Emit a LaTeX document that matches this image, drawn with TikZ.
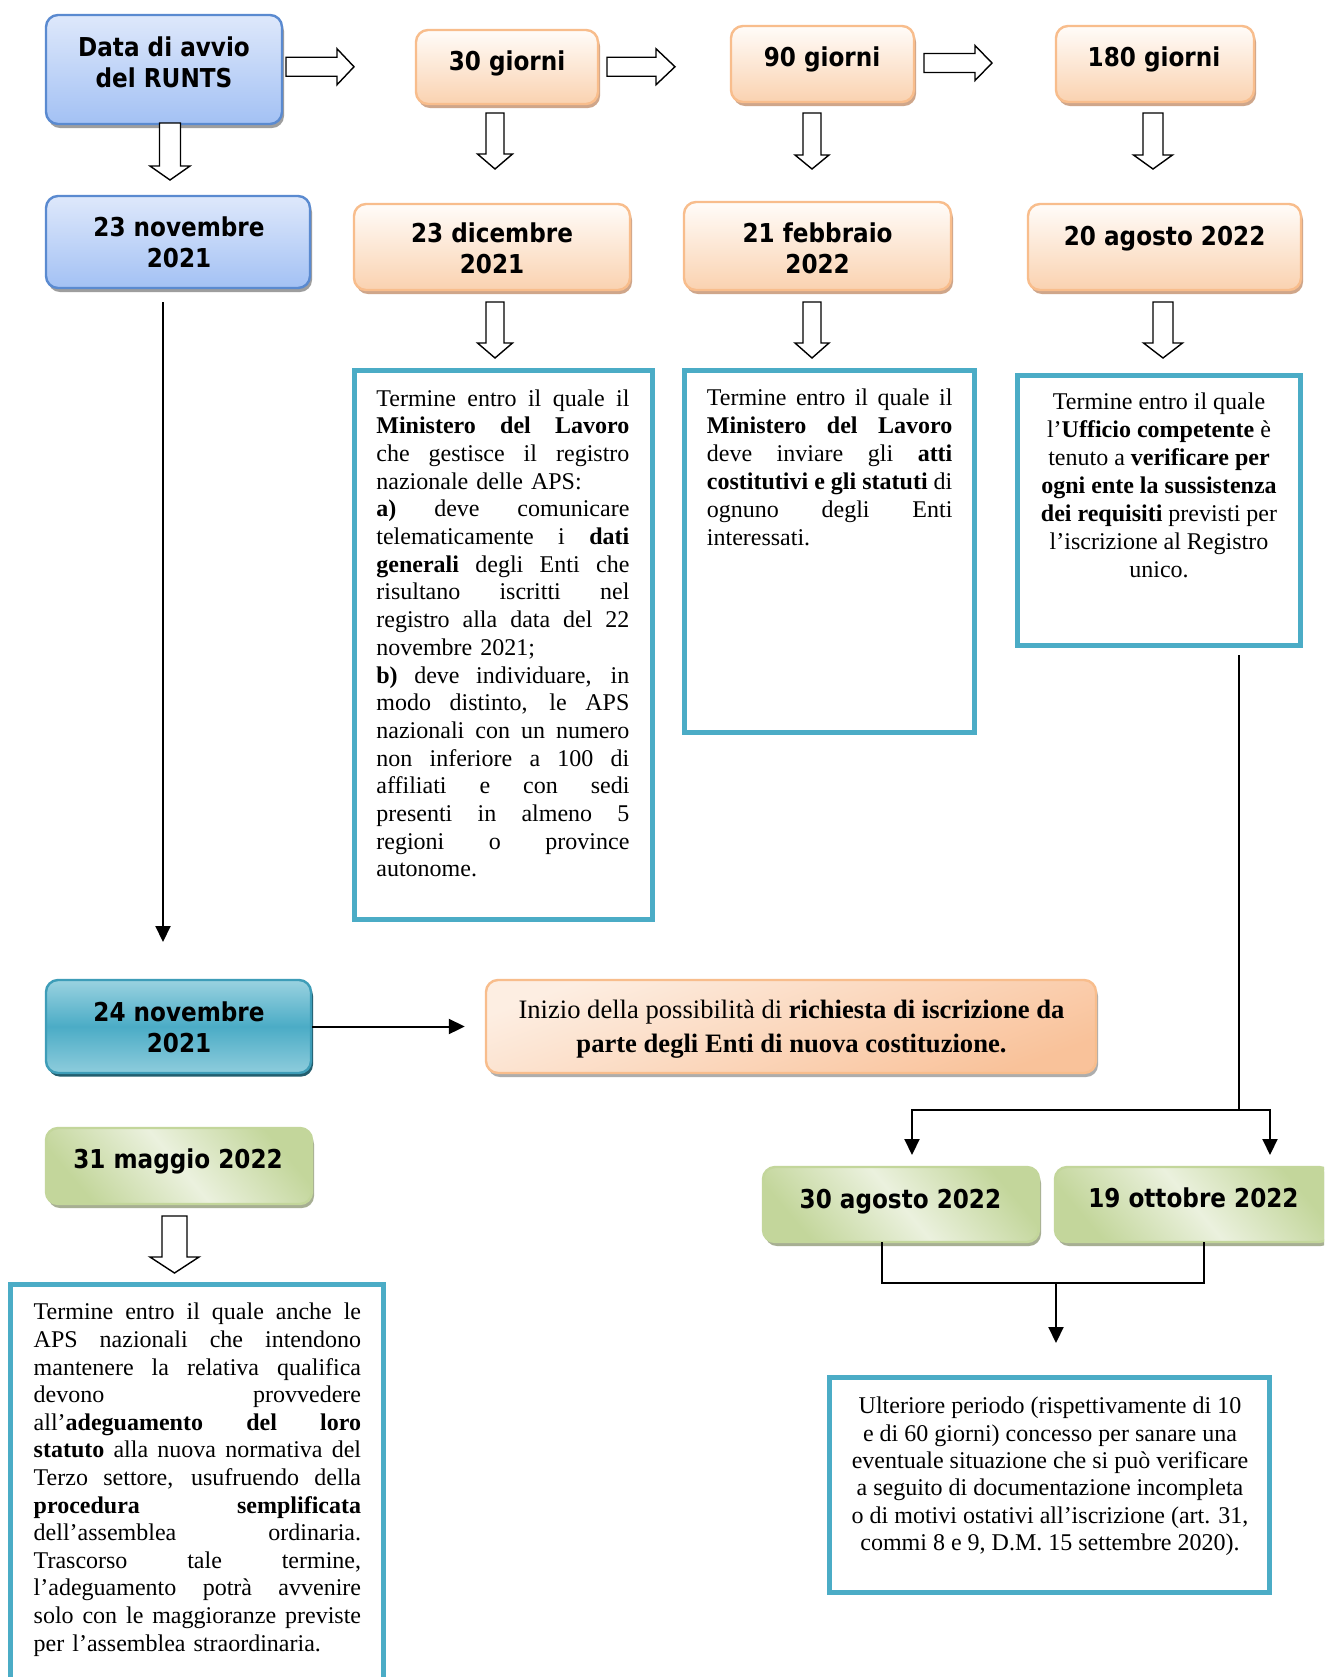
\documentclass[tikz,border=0pt]{standalone}
\usepackage{fontspec}
\setmainfont{Liberation Serif}
\newfontfamily\hdfont[FakeStretch=0.89]{DejaVu Sans}
\usetikzlibrary{fit,shadows,arrows.meta,calc}
\definecolor{bluT}{HTML}{DEE8FB}
\definecolor{bluD}{HTML}{A3C1F4}
\definecolor{bluB}{HTML}{5A8AD0}
\definecolor{orT}{HTML}{FFFCF9}
\definecolor{orD}{HTML}{FAD2B0}
\definecolor{orB}{HTML}{F8BD8C}
\definecolor{orS}{HTML}{CFA68A}
\definecolor{tlL}{HTML}{9AD2E0}
\definecolor{tlM}{HTML}{4BACC6}
\definecolor{tlB}{HTML}{3E9DB8}
\definecolor{tlS}{HTML}{235E6E}
\definecolor{grD}{HTML}{C3D69B}
\definecolor{grL}{HTML}{EBF1DE}
\definecolor{grS}{HTML}{A7AF93}
\definecolor{frm}{HTML}{4BACC6}
\definecolor{inT}{HTML}{FDEEE2}
\definecolor{inD}{HTML}{F9C29A}
\newcommand\jl[1]{\makebox[\linewidth][s]{\spaceskip=0pt\xspaceskip=0pt #1}\\}
\newcommand\rarr[6]{\draw[blk] (#1,#4-#5) -- (#2,#4-#5) -- (#2,#4-#6) -- (#3,#4) -- (#2,#4+#6) -- (#2,#4+#5) -- (#1,#4+#5) -- cycle;}
\newcommand\darr[6]{\draw[blk] (#1-#5,#2) -- (#1-#5,#3) -- (#1-#6,#3) -- (#1,#4) -- (#1+#6,#3) -- (#1+#5,#3) -- (#1+#5,#2) -- cycle;}
\tikzset{
  rbox/.style={rounded corners=6pt, line width=1.2pt, inner sep=0pt},
  bluebox/.style={rbox, draw=bluB, top color=bluT, bottom color=bluD,
    drop shadow={shadow xshift=1pt, shadow yshift=-2pt, fill=black!38, opacity=1}},
  orbox/.style={rbox, draw=orB, top color=orT, bottom color=orD,
    drop shadow={shadow xshift=1pt, shadow yshift=-2pt, fill=orS, opacity=1}},
  tealbox/.style={rbox, draw=tlB, top color=tlL, bottom color=tlL!85!tlM, middle color=tlM,
    drop shadow={shadow xshift=1pt, shadow yshift=-1.8pt, fill=tlS, opacity=1}},
  inbox/.style={rbox, draw=orB, top color=inT, bottom color=inD, shading angle=20,
    drop shadow={shadow xshift=1pt, shadow yshift=-2pt, fill=black!32, opacity=1}},
  grbox/.style={rbox, draw=grD, top color=grD, bottom color=grD, middle color=grL, shading angle=-50,
    drop shadow={shadow xshift=1pt, shadow yshift=-2pt, fill=grS, opacity=1}},
  frame/.style={draw=frm, line width=2.5pt, inner sep=0pt},
  hd/.style={font=\hdfont\bfseries\fontsize{13pt}{15.5pt}\selectfont, align=center, inner sep=0pt},
  tx/.style={font=\fontsize{12pt}{13.85pt}\selectfont, inner sep=0pt},
  blk/.style={draw=black, fill=white, line width=0.7pt},
  line/.style={line width=1pt},
  conn/.style={line width=1pt, -{Triangle[length=8pt,width=7.5pt]}},
}
\begin{document}
\begin{tikzpicture}[x=0.5pt,y=-0.5pt]
\fill[white] (0,0) rectangle (1324,1677);
\useasboundingbox (0,0) rectangle (1324,1677);
\clip (0,0) rectangle (1324,1677);

% heading boxes
\node[bluebox, fit={(46,15) (282,124)}] (data) {};
\node[bluebox, fit={(46,196) (310,288)}] (nov23) {};
\node[orbox, fit={(416,30) (598,104)}] (g30) {};
\node[orbox, fit={(731,26) (914,102)}] (g90) {};
\node[orbox, fit={(1056,26) (1254,102)}] (g180) {};
\node[orbox, fit={(354,204) (630,290)}] (dic23) {};
\node[orbox, fit={(684,202) (951,290)}] (feb21) {};
\node[orbox, fit={(1028,204) (1301,290)}] (ago20) {};
\node[tealbox, fit={(46,980) (311,1073)}] (nov24) {};
\node[inbox, fit={(486,980) (1096,1073)}] (inizio) {};
\node[grbox, fit={(46,1128) (312,1204)}] (mag31) {};
\node[grbox, fit={(763,1167) (1039,1242)}] (ago30) {};
\node[grbox, fit={(1055,1167) (1331,1242)}] (ott19) {};

% heading texts
\node[hd] (data-t) at (164,62.6) {Data di avvio\\del RUNTS};
\node[hd] (nov23-t) at (179,242.6) {23 novembre\\2021};
\node[hd] (g30-t) at (507,63.2) {30 giorni};
\node[hd] (g90-t) at (822,59.9) {90 giorni};
\node[hd] (g180-t) at (1154,59.9) {180 giorni};
\node[hd] (dic23-t) at (492,248.6) {23 dicembre\\2021};
\node[hd] (feb21-t) at (817.6,248.6) {21 febbraio\\2022};
\node[hd] (ago20-t) at (1164.6,238.5) {20 agosto 2022};
\node[hd] (nov24-t) at (179,1027.6) {24 novembre\\2021};
\node[hd] (mag31-t) at (178,1161) {31 maggio 2022};
\node[hd] (ago30-t) at (900.4,1201.5) {30 agosto 2022};
\node[hd] (ott19-t) at (1193.4,1198.1) {19 ottobre 2022};
\node[tx, align=center, font=\fontsize{13.3pt}{16.7pt}\selectfont] (inizio-t) at (791.5,1029)
  {Inizio della possibilità di \textbf{richiesta di iscrizione da}\\\textbf{parte degli Enti di nuova costituzione.}};

% framed text boxes
\node[frame, fit={(354.5,370.5) (652.5,919)}] (f1) {};
\node[frame, fit={(684,370.5) (974.3,732.5)}] (f2) {};
\node[frame, fit={(1017.5,375.5) (1300.5,645.5)}] (f3) {};
\node[frame, fit={(10.8,1284.5) (383.5,1720)}] (f4) {};
\node[frame, fit={(829.2,1377.5) (1269.5,1592.5)}] (f5) {};

\node[tx, text width=126.5pt, anchor=north west] (t1) at (376,389) {%
\jl{Termine entro il quale il}
\jl{\textbf{Ministero del Lavoro}}
\jl{che gestisce il registro}
nazionale delle APS:\\
\jl{\textbf{a)} deve comunicare}
\jl{telematicamente i \textbf{dati}}
\jl{\textbf{generali} degli Enti che}
\jl{risultano iscritti nel}
\jl{registro alla data del 22}
novembre 2021;\\
\jl{\textbf{b)} deve individuare, in}
\jl{modo distinto, le APS}
\jl{nazionali con un numero}
\jl{non inferiore a 100 di}
\jl{affiliati e con sedi}
\jl{presenti in almeno 5}
\jl{regioni o province}
autonome.};

\node[tx, text width=122.75pt, anchor=north west, font=\fontsize{12pt}{14pt}\selectfont] (t2) at (706.5,388.6) {%
\jl{Termine entro il quale il}
\jl{\textbf{Ministero del Lavoro}}
\jl{deve inviare gli \textbf{atti}}
\jl{\textbf{costitutivi e gli statuti} di}
\jl{ognuno degli Enti}
interessati.};

\node[tx, align=center, anchor=north, font=\fontsize{12pt}{13.95pt}\selectfont] (t3) at (1159,392.6) {%
Termine entro il quale\\
l’\textbf{Ufficio competente} è\\
tenuto a \textbf{verificare per}\\
\textbf{ogni ente la sussistenza}\\
\textbf{dei requisiti} previsti per\\
l’iscrizione al Registro\\
unico.};

\node[tx, text width=163.7pt, anchor=north west, font=\fontsize{12pt}{13.8pt}\selectfont] (t4) at (33.3,1302.9) {%
\jl{Termine entro il quale anche le}
\jl{APS nazionali che intendono}
\jl{mantenere la relativa qualifica}
\jl{devono provvedere}
\jl{all’\textbf{adeguamento del loro}}
\jl{\textbf{statuto} alla nuova normativa del}
\jl{Terzo settore, usufruendo della}
\jl{\textbf{procedura semplificata}}
\jl{dell’assemblea ordinaria.}
\jl{Trascorso tale termine,}
\jl{l’adeguamento potrà avvenire}
\jl{solo con le maggioranze previste}
per l’assemblea straordinaria.};

\node[tx, align=center, anchor=north, font=\fontsize{12pt}{13.7pt}\selectfont] (t5) at (1050,1396.6) {%
Ulteriore periodo (rispettivamente di 10\\
e di 60 giorni) concesso per sanare una\\
eventuale situazione che si può verificare\\
a seguito di documentazione incompleta\\
o di motivi ostativi all’iscrizione (art. 31,\\
commi 8 e 9, D.M. 15 settembre 2020).};

% block arrows
\rarr{286}{337}{354}{66.75}{9.5}{18}
\rarr{607}{656}{675}{66.75}{9.5}{18}
\rarr{924}{975}{992}{63}{9.5}{17.5}
\darr{170}{123}{166}{180}{10.5}{20}
\darr{495}{113}{154}{169}{9}{17.5}
\darr{812}{113}{155}{169}{9}{17}
\darr{1153}{113}{155}{169}{10}{19.5}
\darr{495}{302}{343}{358}{9}{17.5}
\darr{812}{302}{343}{358}{9}{17}
\darr{1163}{302}{343}{358}{10}{19.5}
\darr{174.5}{1216}{1257}{1273}{12.5}{24.5}

% connectors
\coordinate (c1a) at (163,302);
\coordinate (c1b) at (163,942);
\draw[conn] (c1a) -- (c1b);
\draw[conn] (nov24.east) -- ([xshift=-10pt]inizio.west);
\coordinate (f3s) at (1239,655);
\coordinate (f3j) at (1239,1110);
\coordinate (fL) at (912,1155);
\coordinate (fR) at (1270,1155);
\draw[line] (f3s) -- (f3j);
\draw[conn] (f3j) -| (fL);
\draw[conn] (f3j) -| (fR);
\coordinate (m1) at (882,1242);
\coordinate (m2) at (1204,1242);
\coordinate (mj) at (1056,1283);
\coordinate (mt) at (1056,1343);
\draw[line] (m1) |- (mj);
\draw[line] (m2) |- (mj);
\draw[conn] (mj) -- (mt);
\end{tikzpicture}
\end{document}
